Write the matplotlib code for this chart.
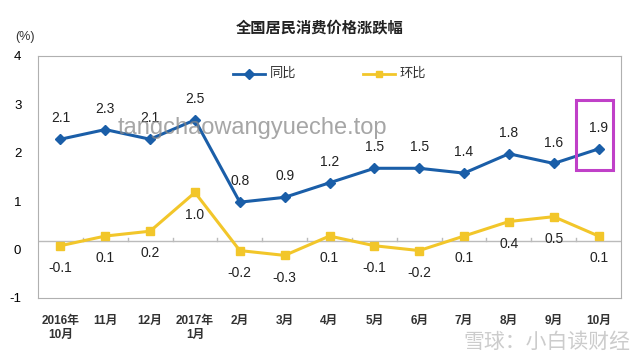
import matplotlib.pyplot as plt
from matplotlib.lines import Line2D
from matplotlib.patches import Rectangle

plt.rcParams['font.family'] = ['Liberation Sans', 'Noto Sans CJK SC', 'DejaVu Sans']

months = ['2016年\n10月', '11月', '12月', '2017年\n1月', '2月', '3月', '4月',
          '5月', '6月', '7月', '8月', '9月', '10月']
yoy = [2.1, 2.3, 2.1, 2.5, 0.8, 0.9, 1.2, 1.5, 1.5, 1.4, 1.8, 1.6, 1.9]
mom = [-0.1, 0.1, 0.2, 1.0, -0.2, -0.3, 0.1, -0.1, -0.2, 0.1, 0.4, 0.5, 0.1]
yticks = [-1, 0, 1, 2, 3, 4]

# the source chart draws everything about 0.18 above its tick labels
shift = 0.18
blue = '#1a5ea8'
yellow = '#f2c62a'

fig = plt.figure(figsize=(6.39, 3.59), dpi=100)
ax = fig.add_axes([38/639, 1 - 298/359, (621-38)/639, (298-56)/359])

x = list(range(len(months)))
ax.plot(x, [v + shift for v in yoy], color=blue, lw=2.2, marker='D', ms=5, zorder=3)
ax.plot(x, [v + shift for v in mom], color=yellow, lw=2.2, marker='s', ms=5.5, zorder=3)

for i, v in enumerate(yoy):
    ax.annotate(f'{v:.1f}', (i, v + shift), xytext=(0, 15), textcoords='offset points',
                ha='center', va='center', fontsize=10, color='#222222')
for i, v in enumerate(mom):
    ax.annotate(f'{v:.1f}', (i, v + shift), xytext=(0, -16), textcoords='offset points',
                ha='center', va='center', fontsize=10, color='#222222')

# category axis line with small tick marks between months
ax.axhline(shift, color='#bbbbbb', lw=1, zorder=1)
for k in range(1, len(months)):
    ax.plot([k - 0.5, k - 0.5], [shift, shift + 0.07], color='#bbbbbb', lw=1, zorder=1)

ax.set_xlim(-0.5, len(months) - 0.5)
ax.set_ylim(-1, 4)
ax.set_yticks(yticks)
ax.set_yticklabels([str(t) for t in yticks], fontsize=9.5)
ax.tick_params(axis='y', length=0, pad=12)
ax.set_xticks(x)
ax.set_xticklabels(months, fontsize=8.5, fontweight='bold', color='#333333')
ax.tick_params(axis='x', length=0, pad=12)
for s in ax.spines.values():
    s.set_color('#b0b0b0')

# highlight box around the latest point
ax.add_patch(Rectangle((11.5, 1.64), 0.82, 1.45, fill=False, ec='#c040c8', lw=2.2,
                       zorder=4, clip_on=False))

fig.text(0.5, 1 - 28/359, '全国居民消费价格涨跌幅', ha='center', va='center',
         fontsize=11, fontweight='bold', color='#222222')
fig.text(25/639, 1 - 37/359, '(%)', ha='center', va='center', fontsize=9, color='#333333')

# legend drawn by hand like the source
fig.lines.append(Line2D([233/639, 265/639], [1 - 74/359] * 2, color=blue, lw=2,
                        transform=fig.transFigure))
fig.lines.append(Line2D([249/639], [1 - 74/359], color=blue, marker='D', ms=5,
                        transform=fig.transFigure))
fig.text(270/639, 1 - 74/359, '同比', va='center', fontsize=9.5, color='#333333')
fig.lines.append(Line2D([363/639, 395/639], [1 - 74/359] * 2, color=yellow, lw=2,
                        transform=fig.transFigure))
fig.lines.append(Line2D([379/639], [1 - 74/359], color=yellow, marker='s', ms=5,
                        transform=fig.transFigure))
fig.text(400/639, 1 - 74/359, '环比', va='center', fontsize=9.5, color='#333333')

# watermarks
fig.text(118/639, 1 - 128/359, 'tangchaowangyueche.top', va='center', fontsize=17,
         color='#888888', alpha=0.75)
fig.text(630/639, 1 - 342/359, '雪球：小白读财经', ha='right', va='center', fontsize=15,
         color='#cccccc')

fig.savefig('out.png', dpi=100)
